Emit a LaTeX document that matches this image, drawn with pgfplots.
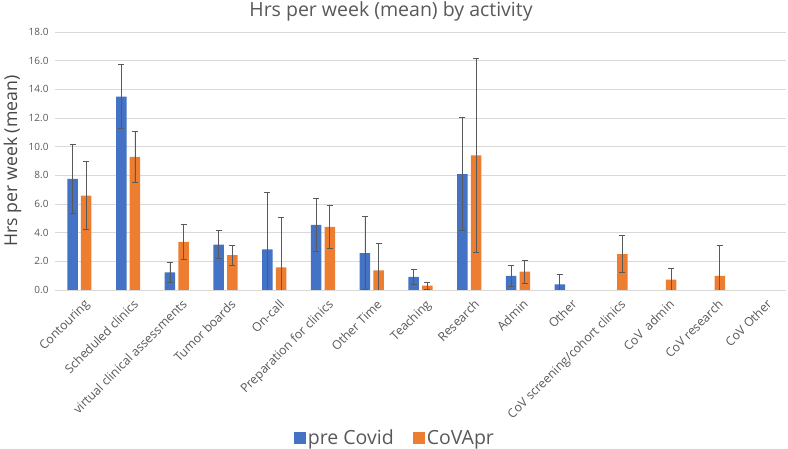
\documentclass[border=0pt]{standalone}
\usepackage{pgfplots}
\pgfplotsset{compat=1.18}
\usepackage{pgfplotstable}
\usepackage{fontspec}
\setmainfont{Open Sans}
\definecolor{xblue}{HTML}{4472C4}
\definecolor{xorange}{HTML}{ED7D31}
\definecolor{txtgray}{HTML}{595959}
\definecolor{gridgray}{HTML}{D9D9D9}
\definecolor{errgray}{HTML}{595959}
\pgfplotstableread{
x y e
0 7.75 2.43
1 13.49 2.25
2 1.23 0.73
3 3.16 0.98
4 2.84 4.00
5 4.54 1.82
6 2.58 2.56
7 0.91 0.52
8 8.09 3.93
9 0.98 0.73
10 0.40 0.67
}\precovid
\pgfplotstableread{
x y e
0 6.58 2.37
1 9.28 1.79
2 3.35 1.25
3 2.44 0.70
4 1.58 3.45
5 4.40 1.50
6 1.37 1.86
7 0.30 0.26
8 9.40 6.75
9 1.28 0.81
11 2.51 1.31
12 0.72 0.77
13 0.98 2.16
}\covapr
\begin{document}
\begin{tikzpicture}
\useasboundingbox (0,0) rectangle (788pt,449pt);
\begin{axis}[
  at={(55pt,159pt)}, anchor=south west,
  scale only axis, width=731pt, height=258pt,
  ybar=3.2pt, bar width=10.5pt,
  xmin=-0.5, xmax=14.5, ymin=0, ymax=18,
  xtick={0,...,14},
  xticklabels={Contouring,Scheduled clinics,virtual clinical assessments,Tumor boards,On-call,Preparation for clinics,Other Time,Teaching,Research,Admin,Other,CoV screening/cohort clinics,CoV\ \ admin,CoV research,CoV Other},
  ytick={0,2,...,18},
  yticklabel style={/pgf/number format/fixed, /pgf/number format/fixed zerofill, /pgf/number format/precision=1, font=\fontsize{10}{12}\selectfont, xshift=-3pt},
  /pgf/number format/assume math mode=true,
  ymajorgrids, grid style={gridgray, line width=0.8pt},
  axis line style={draw=none},
  major tick length=0pt,
  tick label style={text=txtgray},
  xticklabel style={font=\fontsize{12.3}{14}\selectfont, rotate=45, anchor=north east, inner sep=1pt, yshift=-8pt, xshift=-2pt},
  ylabel={Hrs per week (mean)},
  ylabel style={at={(axis description cs:-0.058,0.5)}, anchor=center, font=\fontsize{17.7}{19}\selectfont, text=txtgray!80!black},
  legend style={at={(axis description cs:0.465,-0.574)}, anchor=center, draw=none, inner sep=0pt, nodes={inner sep=1.5pt}, legend columns=2, font=\fontsize{19.5}{21}\selectfont, text=txtgray, /tikz/every even column/.append style={column sep=18pt}},
  legend image code/.code={\fill[#1] (-4pt,-6pt) rectangle (8pt,6pt);},
  error bars/y dir=both, error bars/y explicit,
  error bars/error bar style={errgray, line width=0.8pt},
  error bars/error mark options={rotate=90, mark size=3pt, errgray, line width=0.8pt},
]
\addplot[fill=xblue, draw=none] table[x=x, y=y, y error=e] {\precovid};
\addplot[fill=xorange, draw=none] table[x=x, y=y, y error=e] {\covapr};
\legend{pre Covid, CoVApr}
\end{axis}
\node[text=txtgray, font=\fontsize{19.5}{21}\selectfont] at (391pt,438pt) {Hrs per week (mean) by activity};
\end{tikzpicture}
\end{document}
